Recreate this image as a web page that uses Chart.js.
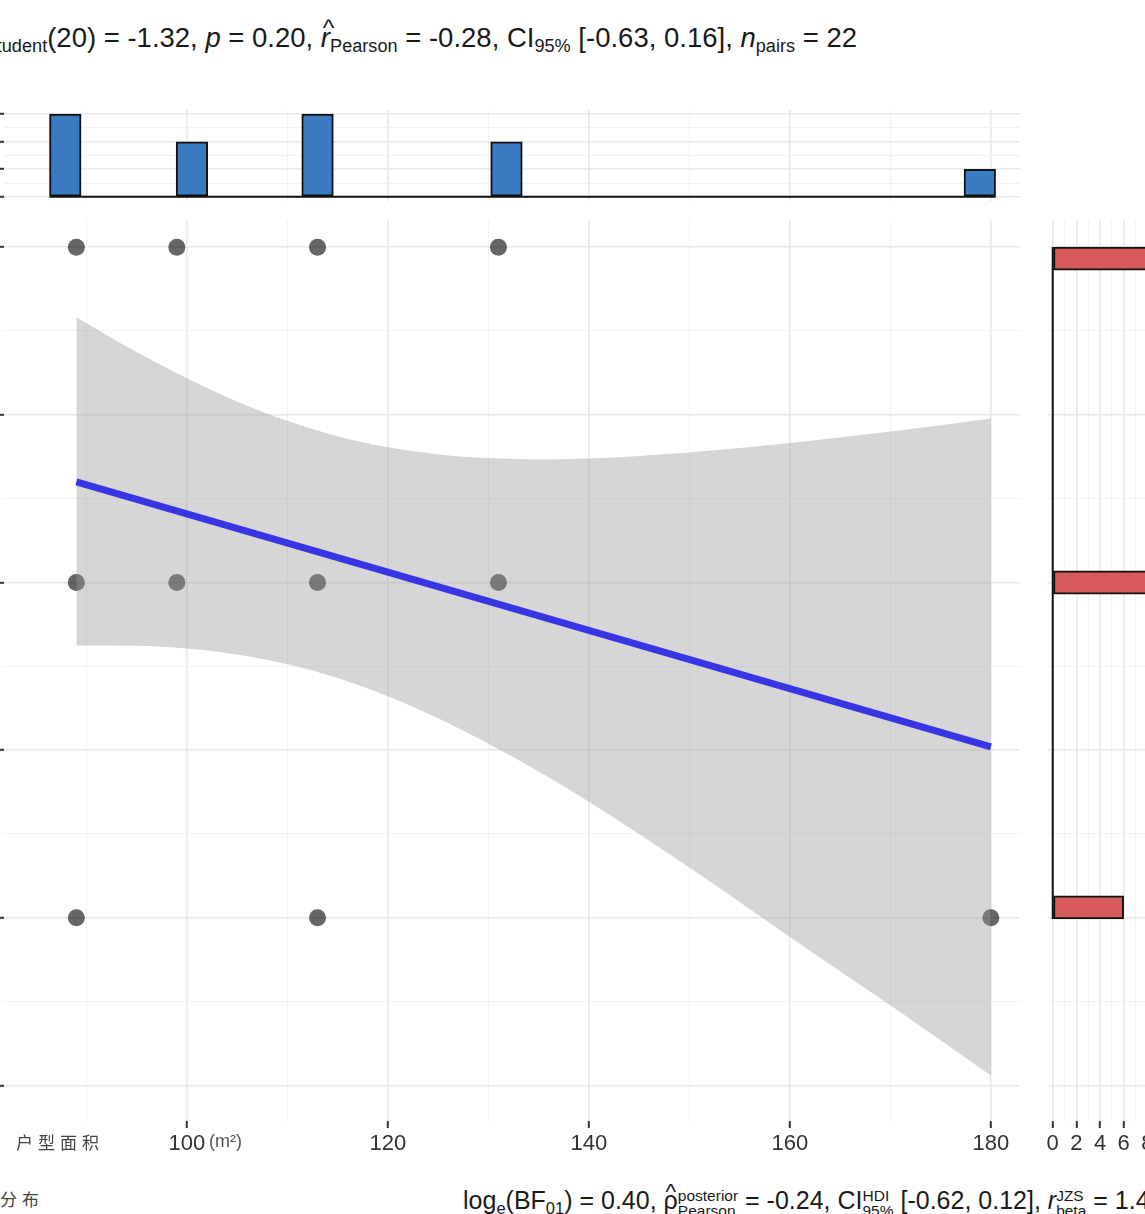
<!DOCTYPE html>
<html>
<head>
<meta charset="utf-8">
<script src="https://cdn.jsdelivr.net/npm/chart.js@4.4.0/dist/chart.umd.min.js"></script>
<style>
  html, body { margin: 0; padding: 0; background: #fff; }
  #wrap { position: relative; width: 1145px; height: 1214px; overflow: hidden; background: #fff;
          font-family: "Liberation Sans", Arial, sans-serif; color: #1a1a1a; }
  canvas { position: absolute; }
  .txt { position: absolute; white-space: nowrap; }
  .stat { font-size: 27.5px; line-height: 1; }
  .stat sub { font-size: 0.66em; vertical-align: -0.3em; }
  .cap { font-size: 25px; }
  .hat { position: relative; display: inline-block; }
  .hat .h { position: absolute; left: 0.08em; top: -0.32em; font-size: 0.9em; font-style: normal; }
  .stk { display: inline-flex; flex-direction: column; vertical-align: 0.5em; font-size: 0.62em; line-height: 0.95; }
  .cjk { font-family: "Noto Sans CJK SC", sans-serif; font-size: 17px; letter-spacing: 5px; color: #444; }
</style>
</head>
<body>
<div id="wrap">
  <canvas id="top" width="1020" height="91" style="left:0;top:110px"></canvas>
  <canvas id="main" width="1020" height="941" style="left:0;top:220px"></canvas>
  <canvas id="right" width="134" height="941" style="left:1038px;top:220px"></canvas>

  <div class="txt stat" style="left:-23px;top:24px">
    <i>t</i><sub>Student</sub>(20) = -1.32, <i>p</i> = 0.20, <span class="hat"><i>r</i><span class="h">^</span></span><sub>Pearson</sub> = -0.28, CI<sub>95%</sub> [-0.63, 0.16], <i>n</i><sub>pairs</sub> = 22
  </div>

  <div class="txt stat cap" style="left:463px;top:1188px">
    log<sub>e</sub>(BF<sub>01</sub>) = 0.40, <span class="hat">ρ<span class="h">^</span></span><span class="stk"><span>posterior</span><span>Pearson</span></span> = -0.24, CI<span class="stk"><span>HDI</span><span>95%</span></span> [-0.62, 0.12], <i>r</i><span class="stk"><span>JZS</span><span>beta</span></span> = 1.41
  </div>

  <div class="txt cjk" style="left:16px;top:1129px">户型面积</div>
  <div class="txt" style="left:209px;top:1131px;font-size:18px;color:#555">(m²)</div>
  <div class="txt cjk" style="left:0;top:1186px">分布</div>
</div>

<script>
// scatter data (each position holds two overlapping observations)
const pointX = [89, 89, 99, 99, 113, 113, 131, 131,
                89, 89, 99, 99, 113, 113, 131, 131,
                89, 89, 113, 113, 180, 180];
const pointY = [3, 3, 3, 3, 3, 3, 3, 3,
                2, 2, 2, 2, 2, 2, 2, 2,
                1, 1, 1, 1, 1, 1];

// linear fit and its 95% band
const fitX = [89, 180];
const fitY = [2.30, 1.51];
const bandX = [89, 95, 100, 105, 110, 115, 120, 125, 130, 135, 140, 150, 160, 170, 180];
const bandUpper = [2.791, 2.687, 2.609, 2.540, 2.482, 2.436, 2.403, 2.382, 2.371, 2.367, 2.370, 2.388, 2.416, 2.450, 2.489];
const bandLower = [1.812, 1.811, 1.803, 1.785, 1.756, 1.715, 1.661, 1.595, 1.519, 1.436, 1.346, 1.150, 0.943, 0.739, 0.530];

// marginal histograms
const xBinCenters = [87.9, 100.5, 113.0, 131.8, 178.9];
const xBinCounts = [6, 4, 6, 4, 2];
const xBinWidth = 3.14;
const yBinCenters = [2.966, 2.0, 1.031];
const yBinCounts = [8, 8, 6];
const yBinWidth = 0.069;

// axes
const xMin = 81.8, xMax = 182.9;
const yMin = 0.394, yMax = 3.081;
const xTicks = [90, 100, 110, 120, 130, 140, 150, 160, 170, 180];
const xLabels = [100, 120, 140, 160, 180];
const yTicks = [0.5, 0.75, 1, 1.25, 1.5, 1.75, 2, 2.25, 2.5, 2.75, 3];
const yMajor = [0.5, 1, 1.5, 2, 2.5, 3];
const countTicksTop = [0, 1, 2, 3, 4, 5, 6];
const countTicksRight = [0, 1, 2, 3, 4, 5, 6, 7, 8];

Chart.defaults.font.family = '"Liberation Sans", Arial, sans-serif';
Chart.defaults.animation = false;

const MAJOR = '#e8e8e8', MINOR = '#f2f2f2', TICK = '#333';
const PANEL_W = 1016, PANEL_H = 901;

function setTicks(list) {
  return scale => { scale.ticks = list.map(v => ({ value: v })); };
}
function gridFor(major) {
  return {
    color: c => major.includes(c.tick.value) ? MAJOR : MINOR,
    lineWidth: c => major.includes(c.tick.value) ? 1.6 : 1,
    tickColor: c => major.includes(c.tick.value) ? TICK : 'rgba(0,0,0,0)',
    tickWidth: 2
  };
}
const noPlugins = { legend: { display: false }, tooltip: { enabled: false } };

// main scatter panel
new Chart(document.getElementById('main'), {
  type: 'scatter',
  data: {
    datasets: [
      { type: 'line', data: fitX.map((x, i) => ({ x, y: fitY[i] })),
        borderColor: '#3a35e4', borderWidth: 7, pointRadius: 0, borderCapStyle: 'butt' },
      { type: 'line', data: bandX.map((x, i) => ({ x, y: bandUpper[i] })),
        borderWidth: 0, pointRadius: 0, fill: '+1', backgroundColor: 'rgba(153,153,153,0.4)',
        cubicInterpolationMode: 'monotone' },
      { type: 'line', data: bandX.map((x, i) => ({ x, y: bandLower[i] })),
        borderWidth: 0, pointRadius: 0, fill: false, cubicInterpolationMode: 'monotone' },
      { data: pointX.map((x, i) => ({ x, y: pointY[i] })),
        backgroundColor: 'rgba(0,0,0,0.37)', pointRadius: 8.5, borderWidth: 0 }
    ]
  },
  options: {
    responsive: false,
    layout: { padding: 0, autoPadding: false },
    plugins: noPlugins,
    scales: {
      x: {
        type: 'linear', min: xMin, max: xMax,
        afterBuildTicks: setTicks(xTicks),
        afterFit: s => { s.height = 40; },
        border: { display: false },
        grid: Object.assign(gridFor(xLabels), { tickLength: 7 }),
        ticks: { color: '#333', font: { size: 22 }, padding: 3, maxRotation: 0, autoSkip: false,
                 callback: v => xLabels.includes(v) ? String(v) : '' }
      },
      y: {
        type: 'linear', min: yMin, max: yMax,
        afterBuildTicks: setTicks(yTicks),
        afterFit: s => { s.width = 4; },
        border: { display: false },
        grid: Object.assign(gridFor(yMajor), { tickLength: 4 }),
        ticks: { display: false }
      }
    }
  }
});

// top marginal histogram of x
const topBarPx = xBinWidth * PANEL_W / (xMax - xMin);
new Chart(document.getElementById('top'), {
  type: 'bar',
  data: {
    datasets: [
      { type: 'line', data: [
          { x: xBinCenters[0] - xBinWidth / 2, y: 0 },
          { x: xBinCenters[xBinCenters.length - 1] + xBinWidth / 2, y: 0 }],
        borderColor: '#111', borderWidth: 2, pointRadius: 0 },
      { data: xBinCenters.map((x, i) => ({ x, y: xBinCounts[i] })),
        backgroundColor: '#3b7bc1', borderColor: '#111', borderWidth: 2,
        borderSkipped: false, barThickness: topBarPx }
    ]
  },
  options: {
    responsive: false,
    layout: { padding: 0, autoPadding: false },
    plugins: noPlugins,
    scales: {
      x: {
        type: 'linear', min: xMin, max: xMax, offset: false,
        afterBuildTicks: setTicks(xTicks),
        afterFit: s => { s.height = 0; },
        border: { display: false },
        grid: Object.assign(gridFor(xLabels), { offset: false, drawTicks: false }),
        ticks: { display: false }
      },
      y: {
        min: -0.3, max: 6.3,
        afterBuildTicks: setTicks(countTicksTop),
        afterFit: s => { s.width = 4; },
        border: { display: false },
        grid: Object.assign(gridFor([0, 2, 4, 6]), { tickLength: 4 }),
        ticks: { display: false }
      }
    }
  }
});

// right marginal histogram of y
const rightBarPx = yBinWidth * PANEL_H / (yMax - yMin);
new Chart(document.getElementById('right'), {
  type: 'bar',
  data: {
    datasets: [
      { type: 'line', indexAxis: 'y', data: [
          { x: 0, y: yBinCenters[yBinCenters.length - 1] - yBinWidth / 2 },
          { x: 0, y: yBinCenters[0] + yBinWidth / 2 }],
        borderColor: '#111', borderWidth: 2, pointRadius: 0 },
      { data: yBinCenters.map((y, i) => ({ x: yBinCounts[i], y })),
        backgroundColor: '#d65a5a', borderColor: '#111', borderWidth: 2,
        borderSkipped: false, barThickness: rightBarPx }
    ]
  },
  options: {
    indexAxis: 'y',
    responsive: false,
    layout: { padding: { left: 10, right: 20 }, autoPadding: false },
    plugins: noPlugins,
    scales: {
      x: {
        type: 'linear', min: -0.4, max: 8.4,
        afterBuildTicks: setTicks(countTicksRight),
        afterFit: s => { s.height = 40; },
        border: { display: false },
        grid: Object.assign(gridFor([0, 2, 4, 6, 8]), { tickLength: 7 }),
        ticks: { color: '#333', font: { size: 22 }, padding: 3, maxRotation: 0, autoSkip: false,
                 callback: v => v % 2 === 0 ? String(v) : '' }
      },
      y: {
        type: 'linear', min: yMin, max: yMax, offset: false,
        afterBuildTicks: setTicks(yTicks),
        afterFit: s => { s.width = 0; },
        border: { display: false },
        grid: Object.assign(gridFor(yMajor), { offset: false, drawTicks: false }),
        ticks: { display: false }
      }
    }
  }
});
</script>
</body>
</html>
